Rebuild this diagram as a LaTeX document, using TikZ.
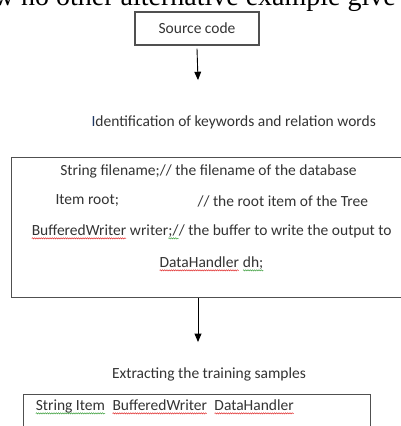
\documentclass[tikz,border=0pt]{standalone}
\usepackage{fontspec}
\setmainfont{Carlito}
\newfontfamily\serifcut{Liberation Serif}
\usetikzlibrary{positioning,arrows,decorations.pathmorphing}

\definecolor{inkgray}{HTML}{333333}
\definecolor{boxgray}{HTML}{505050}
\definecolor{cursorblue}{HTML}{1F3864}
\definecolor{spellred}{HTML}{E03030}
\definecolor{spellgreen}{HTML}{40A040}

% squiggly underline of the word processor
\newcommand{\wavy}[2]{\tikz[baseline=(w.base)]{\node[inner sep=0pt,outer sep=0pt,draw=none](w){#2};
    \draw[#1,line width=0.5pt,decorate,decoration={snake,amplitude=0.6pt,segment length=2.2pt}]
    ([yshift=-2.8pt]w.base west) -- ([yshift=-2.8pt]w.base east);}}

\begin{document}
\begin{tikzpicture}[x=1pt,y=-1pt,
    every node/.style={text=inkgray,font=\fontsize{15.5}{18}\selectfont},
    frame/.style={draw=boxgray,line width=1.1pt},
    flow/.style={draw=black,line width=0.9pt,-triangle 45}]
\useasboundingbox (0,0) rectangle (400,426);

% cut off line of the page above
\node[anchor=base east,inner sep=0pt,font=\serifcut\fontsize{28}{28}\selectfont,text=black] (head) at (396,5.5) {w no other alternative example give};

\node[frame,minimum width=124,minimum height=33] (src) at (197,28.5) {Source code};
\coordinate (a1) at (198,80);
\draw[flow] ([yshift=-3pt]src.south) -- (a1);

\node[anchor=west] (ident) at (88,122) {\textcolor{cursorblue}{I}dentification of keywords and relation words};

\node[frame,minimum width=394,minimum height=140,anchor=north west] (code) at (11,157) {};
\node (l1) at (208.5,171) {String filename;// the filename of the database};
\node[anchor=west] (l2a) at (52,201) {Item root;};
\node[anchor=west] (l2b) at (194,201) {// the root item of the Tree};
\node[anchor=west] (l3) at (28,232) {\wavy{spellred}{BufferedWriter} writer\wavy{spellgreen}{;/}/ the buffer to write the output to};
\node (l4) at (211.5,264) {\wavy{spellred}{DataHandler} \wavy{spellgreen}{dh;}};

\coordinate (a2) at (198,342);
\draw[flow] (code.south -| a2) -- (a2);

\node (extract) at (209,374) {Extracting the training samples};

\node[frame,minimum width=347,minimum height=40,anchor=north west] (samples) at (23,394) {};
\node[anchor=west] (words) at (32,407) {\wavy{spellgreen}{String Item}\ \ \wavy{spellred}{BufferedWriter}\ \ \wavy{spellred}{DataHandler}};
\end{tikzpicture}
\end{document}
